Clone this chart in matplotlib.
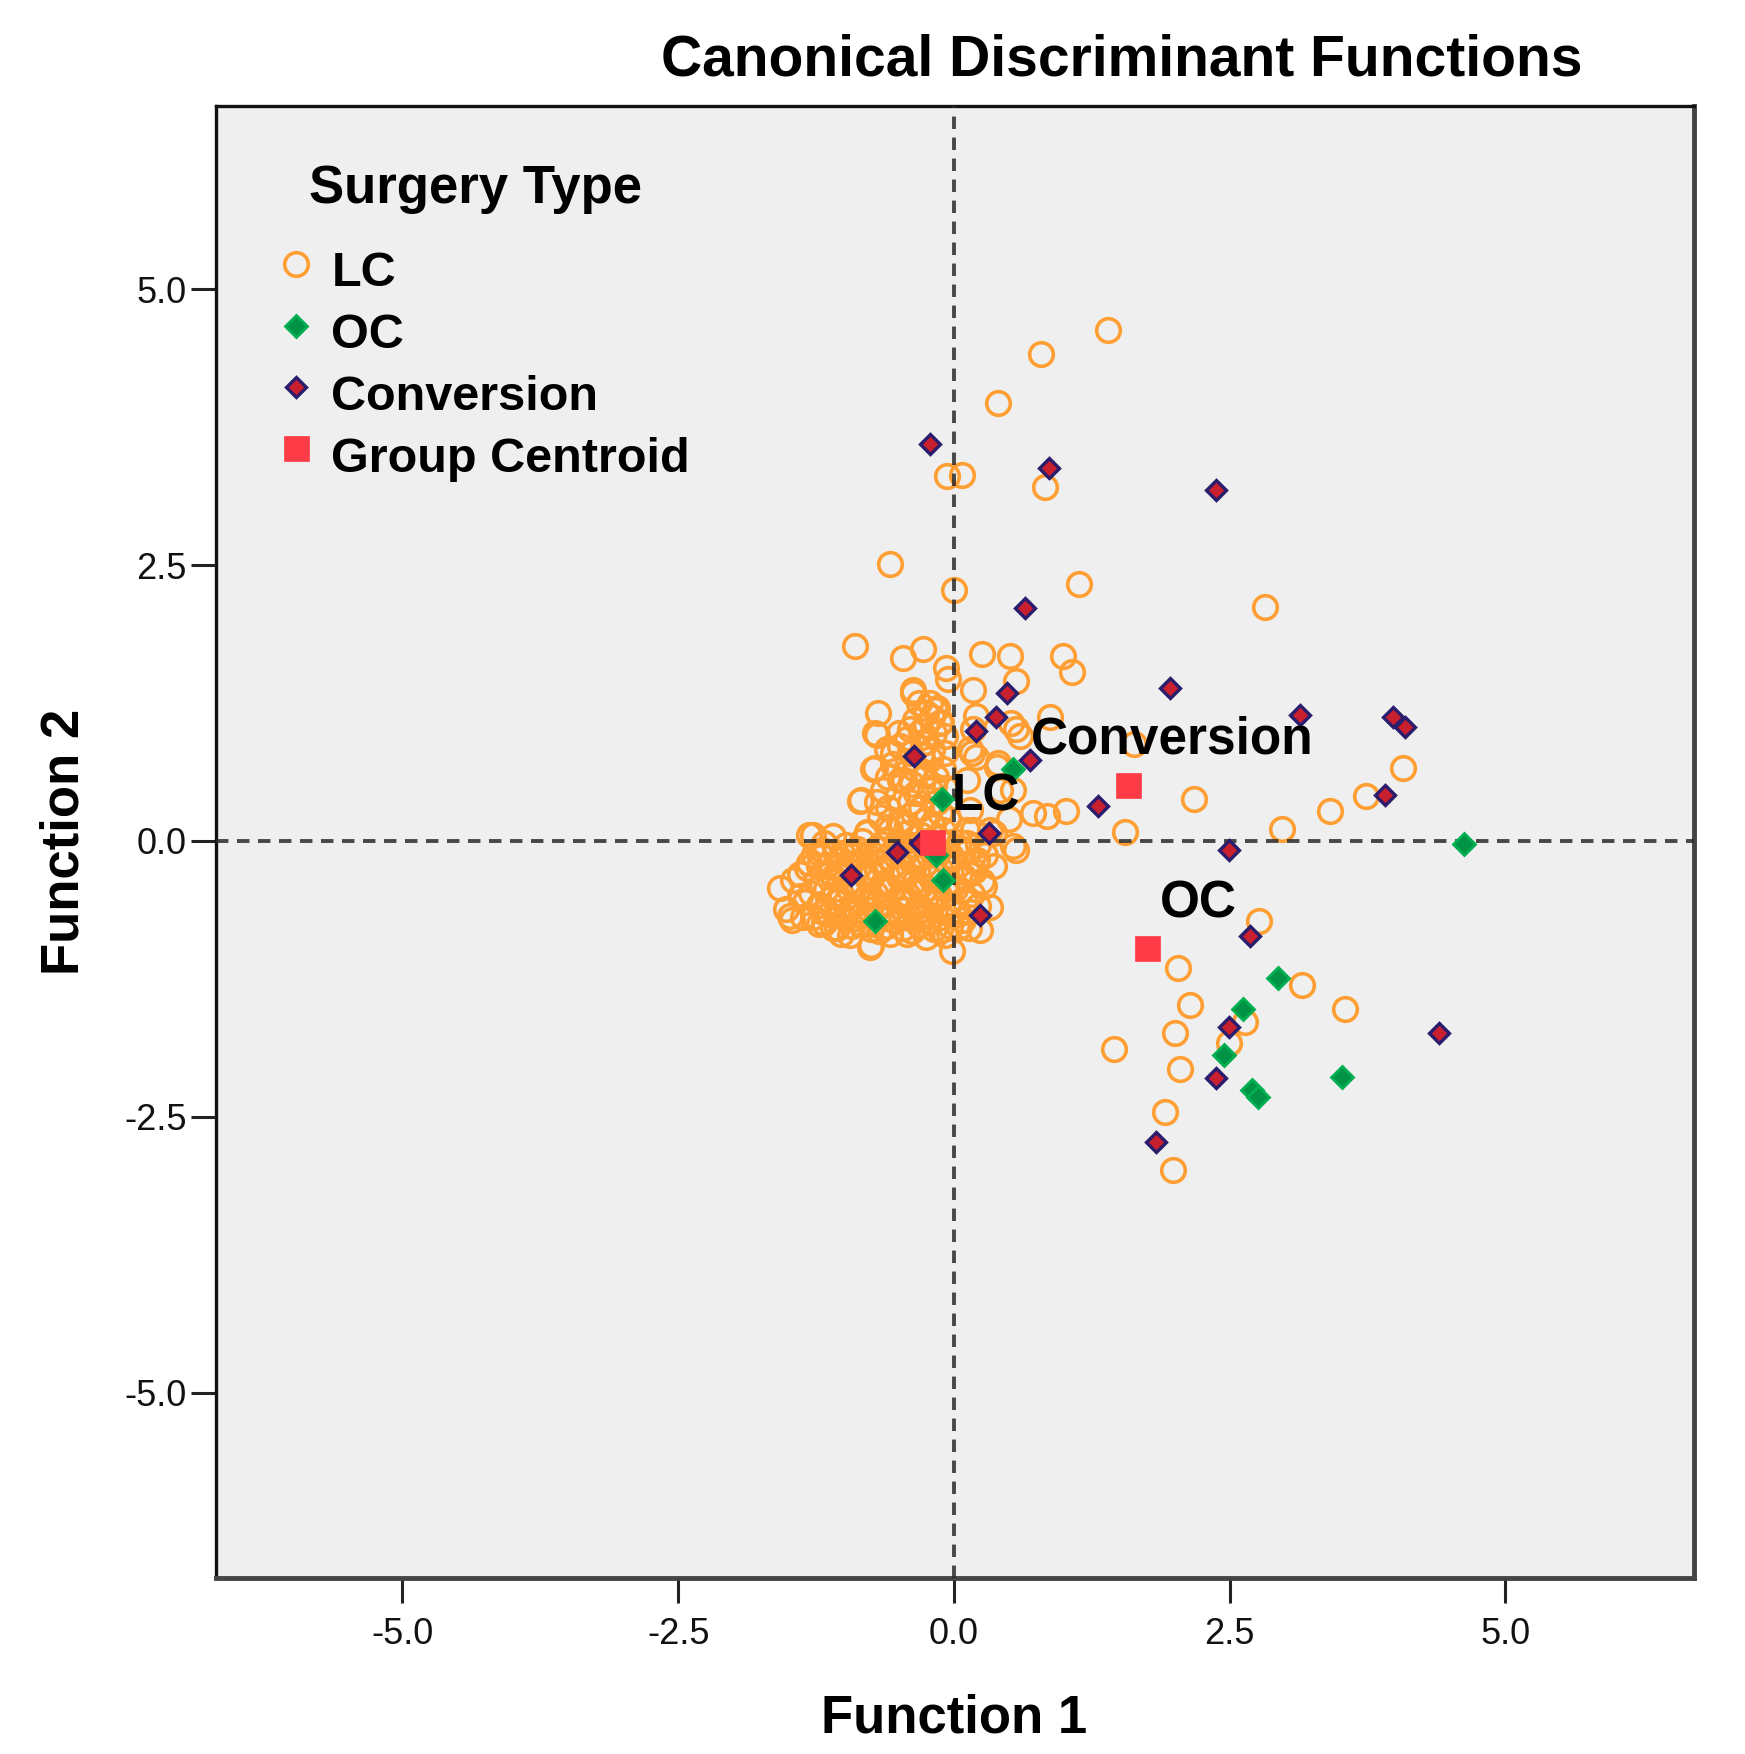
import matplotlib
matplotlib.use("Agg")
import matplotlib.pyplot as plt

plt.rcParams['font.family'] = ['Liberation Sans', 'DejaVu Sans']
plt.rcParams['axes.unicode_minus'] = False

# DATA
# LC cases - Function 1 / Function 2 scores
lc_points = [
    # spread out, upper part
    (1.40, 4.63), (0.79, 4.41), (0.40, 3.97), (-0.06, 3.31), (0.07, 3.32),
    (0.83, 3.21), (-0.58, 2.51), (0.00, 2.27), (1.13, 2.33), (2.82, 2.12),
    (-0.90, 1.77), (-0.46, 1.66), (-0.28, 1.74), (-0.07, 1.57), (-0.05, 1.47),
    (0.25, 1.69), (0.51, 1.68), (0.99, 1.68), (1.07, 1.53), (0.56, 1.45),
    (-0.37, 1.34), (0.87, 1.12), (0.52, 1.07), (0.20, 1.13), (0.56, 1.01),
    (0.17, 1.37), (0.60, 0.95), (0.17, 1.01),
    # right of centre
    (1.63, 0.88), (1.55, 0.08), (2.18, 0.38), (2.97, 0.11), (3.41, 0.27),
    (3.74, 0.41), (4.07, 0.66), (0.54, -0.05), (0.84, 0.23), (1.02, 0.27),
    (0.50, 0.20), (0.56, -0.08), (0.72, 0.25), (0.42, 0.46), (0.54, 0.46),
    (0.15, 0.83), (0.20, 0.76), (0.39, 0.67), (0.12, 0.55), (0.15, 0.28),
    (0.33, 0.10), (0.12, 0.10), (0.16, 0.80), (0.40, 0.71),
    # lower right group
    (2.77, -0.73), (2.03, -1.15), (3.16, -1.31), (3.55, -1.52), (2.14, -1.49),
    (2.00, -1.74), (1.45, -1.89), (2.64, -1.64), (2.49, -1.83), (2.05, -2.07),
    (1.91, -2.46), (1.99, -2.98),
    # middle band left of zero
    (-0.37, 1.37), (-0.69, 1.16), (-0.25, 1.16), (-0.32, 1.25), (-0.13, 1.07),
    (-0.17, 1.19), (-0.22, 1.25), (-0.15, 1.20), (-0.20, 1.12), (-0.12, 1.08),
    (-0.25, 1.05), (-0.18, 0.98), (-0.70, 0.96), (-0.40, 1.01), (-0.61, 0.83),
    (-0.49, 0.86), (-0.28, 0.89), (-0.72, 0.66), (-0.55, 0.70), (-0.49, 0.55),
    (-0.22, 0.74), (-0.16, 0.58), (-0.84, 0.37), (-0.64, 0.46), (-0.52, 0.40),
    (-0.34, 0.43), (-0.22, 0.46), (-0.67, 0.22), (-0.49, 0.19), (-0.37, 0.25),
    (-0.25, 0.19), (-0.13, 0.25), (-0.79, 0.07), (-0.58, 0.10), (-0.43, 0.07),
    (-0.72, 0.98), (-0.43, 0.92), (-0.55, 0.80), (-0.73, 0.65), (-0.85, 0.36),
    (-0.45, 0.55), (-0.35, 0.65), (-0.30, 0.30), (-0.40, 0.80), (-0.25, 0.90),
    (-0.15, 0.35), (-0.10, 0.65), (-0.60, 0.30), (-0.50, 0.15), (-0.30, 0.05),
    (-0.20, 0.15), (-0.08, 0.80), (-0.35, 1.10), (-0.18, 0.50), (-0.05, 0.20),
    (-0.42, 0.72), (-0.30, 0.78), (-0.60, 0.58), (-0.38, 0.52), (-0.27, 0.60),
    (-0.08, 0.48), (-0.70, 0.35), (-0.40, 0.35), (-0.10, 0.10), (-0.62, 0.00),
    (-0.30, 1.00), (-0.50, 0.98), (-0.08, 0.95), (-0.20, 0.82),
    # outline of the dense lower cluster
    (-1.28, 0.05), (-1.10, 0.04), (-0.79, 0.08), (-0.61, 0.13), (-0.43, 0.14),
    (-0.19, 0.13), (0.17, 0.10), (0.36, 0.07), (-1.22, -0.11), (-1.31, -0.20),
    (-1.58, -0.43), (-1.46, -0.35), (-1.40, -0.50), (-1.52, -0.62), (-1.47, -0.72),
    (-1.37, -0.69), (-1.22, -0.75), (-1.06, -0.79), (-0.94, -0.85), (-0.76, -0.96),
    (-0.58, -0.84), (-0.43, -0.84), (-0.25, -0.87), (-0.02, -1.00), (-0.13, -0.81),
    (0.05, -0.78), (0.24, -0.81), (0.27, -0.41), (0.33, -0.60), (0.21, -0.17),
    (0.36, -0.23), (0.12, -0.02), (-1.04, -0.23), (-1.22, -0.23), (-1.31, 0.05),
    (-1.49, -0.68), (-0.75, -0.94),
    # inside of the dense lower cluster
    (-1.18, -0.02), (-0.98, -0.04), (-0.83, 0.00), (-0.66, -0.03), (-0.52, -0.01),
    (-0.37, -0.04), (-0.24, 0.00), (-0.09, -0.03), (0.05, -0.01), (0.22, -0.04),
    (-1.27, -0.13), (-1.08, -0.10), (-0.92, -0.14), (-0.75, -0.11), (-0.60, -0.15),
    (-0.46, -0.10), (-0.31, -0.13), (-0.17, -0.11), (-0.03, -0.14), (0.12, -0.10),
    (0.28, -0.13),
    (-1.33, -0.25), (-1.15, -0.22), (-1.01, -0.27), (-0.86, -0.23), (-0.70, -0.26),
    (-0.55, -0.22), (-0.41, -0.25), (-0.26, -0.21), (-0.12, -0.26), (0.03, -0.23),
    (0.18, -0.27),
    (-1.25, -0.36), (-1.10, -0.33), (-0.95, -0.37), (-0.79, -0.34), (-0.64, -0.38),
    (-0.50, -0.33), (-0.35, -0.36), (-0.21, -0.34), (-0.06, -0.37), (0.09, -0.33),
    (0.25, -0.36),
    (-1.30, -0.47), (-1.16, -0.44), (-1.02, -0.48), (-0.88, -0.45), (-0.72, -0.47),
    (-0.57, -0.44), (-0.43, -0.48), (-0.28, -0.45), (-0.14, -0.47), (0.01, -0.44),
    (0.16, -0.48),
    (-1.22, -0.58), (-1.07, -0.55), (-0.92, -0.59), (-0.78, -0.56), (-0.63, -0.58),
    (-0.48, -0.55), (-0.33, -0.59), (-0.19, -0.56), (-0.05, -0.58), (0.10, -0.55),
    (0.22, -0.59),
    (-1.28, -0.69), (-1.13, -0.66), (-0.99, -0.70), (-0.84, -0.67), (-0.69, -0.69),
    (-0.55, -0.66), (-0.40, -0.70), (-0.26, -0.67), (-0.11, -0.69), (0.04, -0.66),
    (-1.10, -0.79), (-0.92, -0.77), (-0.75, -0.80), (-0.61, -0.77), (-0.46, -0.79),
    (-0.32, -0.76), (-0.18, -0.80), (-0.04, -0.77), (0.14, -0.79),
    # second, shifted pass through the dense cluster
    (-1.20, -0.08), (-1.02, -0.17), (-0.88, -0.07), (-0.68, -0.18), (-0.54, -0.07),
    (-0.39, -0.18), (-0.22, -0.07), (-0.08, -0.18), (0.08, -0.07), (0.20, -0.20),
    (-1.40, -0.30), (-1.20, -0.40), (-1.05, -0.31), (-0.90, -0.41), (-0.74, -0.30),
    (-0.60, -0.41), (-0.45, -0.30), (-0.30, -0.40), (-0.16, -0.30), (-0.01, -0.40),
    (0.14, -0.30), (-1.35, -0.55), (-1.19, -0.64), (-1.04, -0.52), (-0.89, -0.63),
    (-0.74, -0.52), (-0.58, -0.63), (-0.44, -0.52), (-0.29, -0.63), (-0.15, -0.52),
    (-0.01, -0.63), (0.15, -0.64), (-1.18, -0.74), (-1.02, -0.84), (-0.85, -0.74),
    (-0.68, -0.82), (-0.53, -0.73), (-0.38, -0.82), (-0.23, -0.73), (-0.08, -0.85),
    (0.08, -0.72),
    # third pass, centre of the cluster
    (-1.12, -0.28), (-0.97, -0.20), (-0.81, -0.29), (-0.66, -0.20), (-0.50, -0.28),
    (-0.35, -0.20), (-0.20, -0.28), (-0.05, -0.20), (-1.10, -0.50), (-0.95, -0.44),
    (-0.80, -0.51), (-0.65, -0.44), (-0.50, -0.51), (-0.36, -0.44), (-0.21, -0.51),
    (-0.07, -0.44), (-1.05, -0.64), (-0.90, -0.70), (-0.76, -0.63), (-0.61, -0.70),
    (-0.46, -0.63), (-0.32, -0.70), (-0.17, -0.63), (-0.97, -0.10), (-0.70, -0.06),
    (-0.42, -0.08), (-0.14, -0.09),
]
lc_f1 = [p[0] for p in lc_points]
lc_f2 = [p[1] for p in lc_points]

# OC cases
oc_f1 = [4.62, 0.54, -0.11, -0.16, -0.10, -0.72, 2.94, 2.62, 2.45, 2.70, 2.76, 3.52]
oc_f2 = [-0.03, 0.65, 0.38, -0.13, -0.35, -0.73, -1.24, -1.52, -1.94, -2.26, -2.32, -2.14]

# Conversion cases
conv_f1 = [-0.22, 0.86, 2.38, 0.64, 1.96, 0.48, 3.14, 0.38, 0.20, 3.98, 4.09,
           -0.36, 0.69, 3.91, 1.31, 0.32, 2.49, -0.52, -0.31, -0.93, 0.24,
           2.68, 4.40, 2.49, 2.38, 1.83]
conv_f2 = [3.60, 3.38, 3.18, 2.11, 1.39, 1.34, 1.14, 1.12, 1.00, 1.12, 1.03,
           0.77, 0.73, 0.42, 0.32, 0.07, -0.08, -0.10, -0.02, -0.31, -0.67,
           -0.86, -1.74, -1.69, -2.15, -2.73]

# group centroids
centroid_names = ["LC", "Conversion", "OC"]
centroid_f1 = [-0.20, 1.58, 1.75]
centroid_f2 = [-0.01, 0.51, -0.97]

ticks = [-5.0, -2.5, 0.0, 2.5, 5.0]
legend_labels = ["LC", "OC", "Conversion", "Group Centroid"]

# COLOURS
orange = '#ff9f33'
green_edge = '#00b050'
green_face = '#009245'
conv_edge = '#2b1d6e'
conv_face = '#c8202e'
red_sq = '#ff3b47'

# FIGURE
fig = plt.figure(figsize=(17.45, 17.54), dpi=100)
ax = fig.add_axes([0.1238, 0.1003, 0.847, 0.8393])
ax.set_facecolor('#efefef')

ax.plot(lc_f1, lc_f2, linestyle='none', marker='o', ms=17, mfc='none',
        mec=orange, mew=2.6, zorder=2)

ax.axvline(0, color='#2a2a2a', lw=2.8, ls=(0, (3.2, 2.2)), alpha=0.85, zorder=3)
ax.axhline(0, color='#2a2a2a', lw=2.8, ls=(0, (3.2, 2.2)), alpha=0.85, zorder=3)

ax.plot(oc_f1, oc_f2, linestyle='none', marker='D', ms=11, mfc=green_face,
        mec=green_edge, mew=2, zorder=4)
ax.plot(conv_f1, conv_f2, linestyle='none', marker='D', ms=10.5, mfc=conv_face,
        mec=conv_edge, mew=2.4, zorder=5)
ax.plot(centroid_f1, centroid_f2, linestyle='none', marker='s', ms=18,
        mfc=red_sq, mec=red_sq, mew=0.5, zorder=6)

# centroid labels
label_pos = {"LC": (-0.02, 0.28), "Conversion": (0.70, 0.79), "OC": (1.87, -0.69)}
for name in centroid_names:
    lx, ly = label_pos[name]
    ax.text(lx, ly, name, fontsize=37, fontweight='bold', va='baseline',
            ha='left', zorder=7)

ax.set_xlim(-6.69, 6.71)
ax.set_ylim(-6.68, 6.66)
ax.set_xticks(ticks)
ax.set_yticks(ticks)
ax.set_xticklabels([f"{t:.1f}" for t in ticks])
ax.set_yticklabels([f"{t:.1f}" for t in ticks])
ax.tick_params(axis='both', length=18, width=2.2, labelsize=26, color='#222222',
               labelcolor='#111111')
ax.tick_params(axis='x', pad=10)
ax.tick_params(axis='y', pad=3)
for s in ax.spines.values():
    s.set_linewidth(2.4)
    s.set_color('#111111')
ax.spines['bottom'].set_linewidth(3.5)
ax.spines['right'].set_linewidth(3.5)
ax.spines['bottom'].set_color('#444444')
ax.spines['right'].set_color('#444444')

# LEGEND drawn by hand inside the axes
ax.text(0.0627, 0.9343, "Surgery Type", transform=ax.transAxes, fontsize=38,
        fontweight='bold', va='baseline', ha='left')
mk_y = [0.8927, 0.8505, 0.8091, 0.7677]
txt_y = [0.8777, 0.8356, 0.7935, 0.7514]
ax.plot(0.0541, mk_y[0], marker='o', ms=17, mfc='none', mec=orange, mew=2.6,
        transform=ax.transAxes, clip_on=False)
ax.plot(0.0541, mk_y[1], marker='D', ms=11, mfc=green_face, mec=green_edge, mew=2,
        transform=ax.transAxes, clip_on=False)
ax.plot(0.0541, mk_y[2], marker='D', ms=10.5, mfc=conv_face, mec=conv_edge, mew=2.4,
        transform=ax.transAxes, clip_on=False)
ax.plot(0.0541, mk_y[3], marker='s', ms=18, mfc=red_sq, mec=red_sq, mew=0.5,
        transform=ax.transAxes, clip_on=False)
for lab, ty in zip(legend_labels, txt_y):
    ax.text(0.0781, ty, lab, transform=ax.transAxes, fontsize=35,
            fontweight='bold', va='baseline', ha='left')

# TITLES
fig.text(0.643, 0.9567, "Canonical Discriminant Functions", fontsize=41,
         fontweight='bold', ha='center', va='baseline')
fig.text(0.547, 0.0125, "Function 1", fontsize=38, fontweight='bold',
         ha='center', va='baseline')
fig.text(0.0447, 0.520, "Function 2", fontsize=38, fontweight='bold',
         rotation=90, rotation_mode='anchor', ha='center', va='baseline')

fig.savefig("out.png", dpi=100, facecolor='white')
